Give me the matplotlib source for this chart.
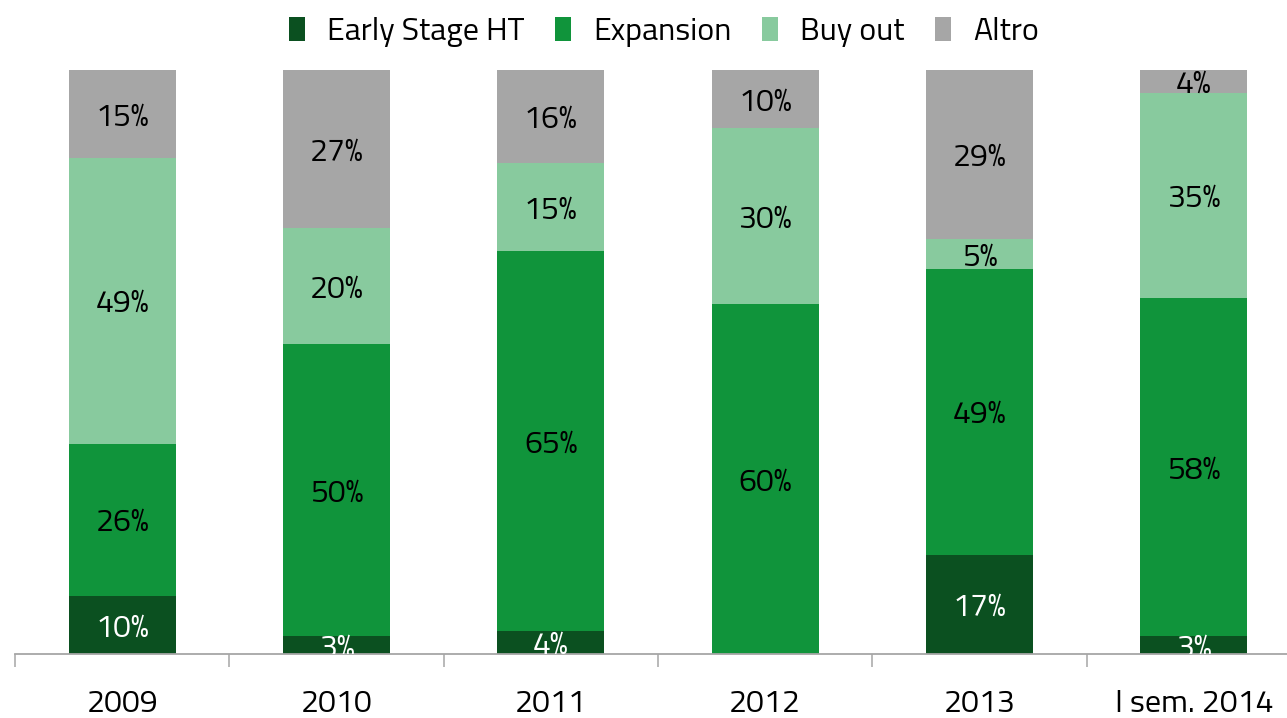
import matplotlib
matplotlib.use("Agg")
import matplotlib.pyplot as plt
from matplotlib.patches import Patch
import numpy as np

categories = ["2009", "2010", "2011", "2012", "2013", "I sem. 2014"]
series_names = ["Early Stage HT", "Expansion", "Buy out", "Altro"]
early = [10, 3, 4, 0, 17, 3]
expansion = [26, 50, 65, 60, 49, 58]
buyout = [49, 20, 15, 30, 5, 35]
altro = [15, 27, 16, 10, 29, 4]

colors = ["#0B5020", "#10943B", "#88CA9E", "#A6A6A6"]
label_colors = ["white", "black", "black", "black"]

plt.rcParams['font.family'] = ['Titillium Web', 'Roboto Condensed', 'DejaVu Sans']

W, H = 1287, 718
fig = plt.figure(figsize=(W / 100, H / 100), dpi=100)
ax = fig.add_axes([15 / W, 64 / H, (1301 - 15) / W, (654 - 70) / H])

x = np.arange(len(categories))
bottom = np.zeros(len(categories))
for vals, col, lc in zip([early, expansion, buyout, altro], colors, label_colors):
    vals = np.array(vals, dtype=float)
    ax.bar(x, vals, width=0.5, bottom=bottom, color=col, linewidth=0)
    for xi, v, b in zip(x, vals, bottom):
        if v > 0:
            ax.text(xi, b + v / 2, f"{int(v)}%", ha="center", va="center_baseline",
                    fontsize=23, color=lc, clip_on=True)
    bottom += vals

ax.set_xlim(-0.5, len(categories) - 0.5)
ax.set_ylim(0, 100)
for s in ["top", "right", "left"]:
    ax.spines[s].set_visible(False)
ax.spines["bottom"].set_color("#A6A6A6")
ax.spines["bottom"].set_linewidth(1.3)
ax.set_yticks([])
ax.set_xticks(x)
ax.set_xticklabels(categories, fontsize=23)
ax.tick_params(axis="x", which="major", length=0, pad=25)
ax.set_xticks(np.arange(-0.5, len(categories), 1), minor=True)
ax.tick_params(axis="x", which="minor", length=9.5, width=1.1, color="#A6A6A6")

handles = [Patch(facecolor=c, edgecolor="none") for c in colors]
fig.legend(handles, series_names, loc="center", bbox_to_anchor=(664 / W, 1 - 32 / H),
           ncol=4, frameon=False, fontsize=23, handlelength=0.5, handleheight=0.75,
           handletextpad=0.7, columnspacing=0.95)

fig.savefig("out.png", dpi=100)
